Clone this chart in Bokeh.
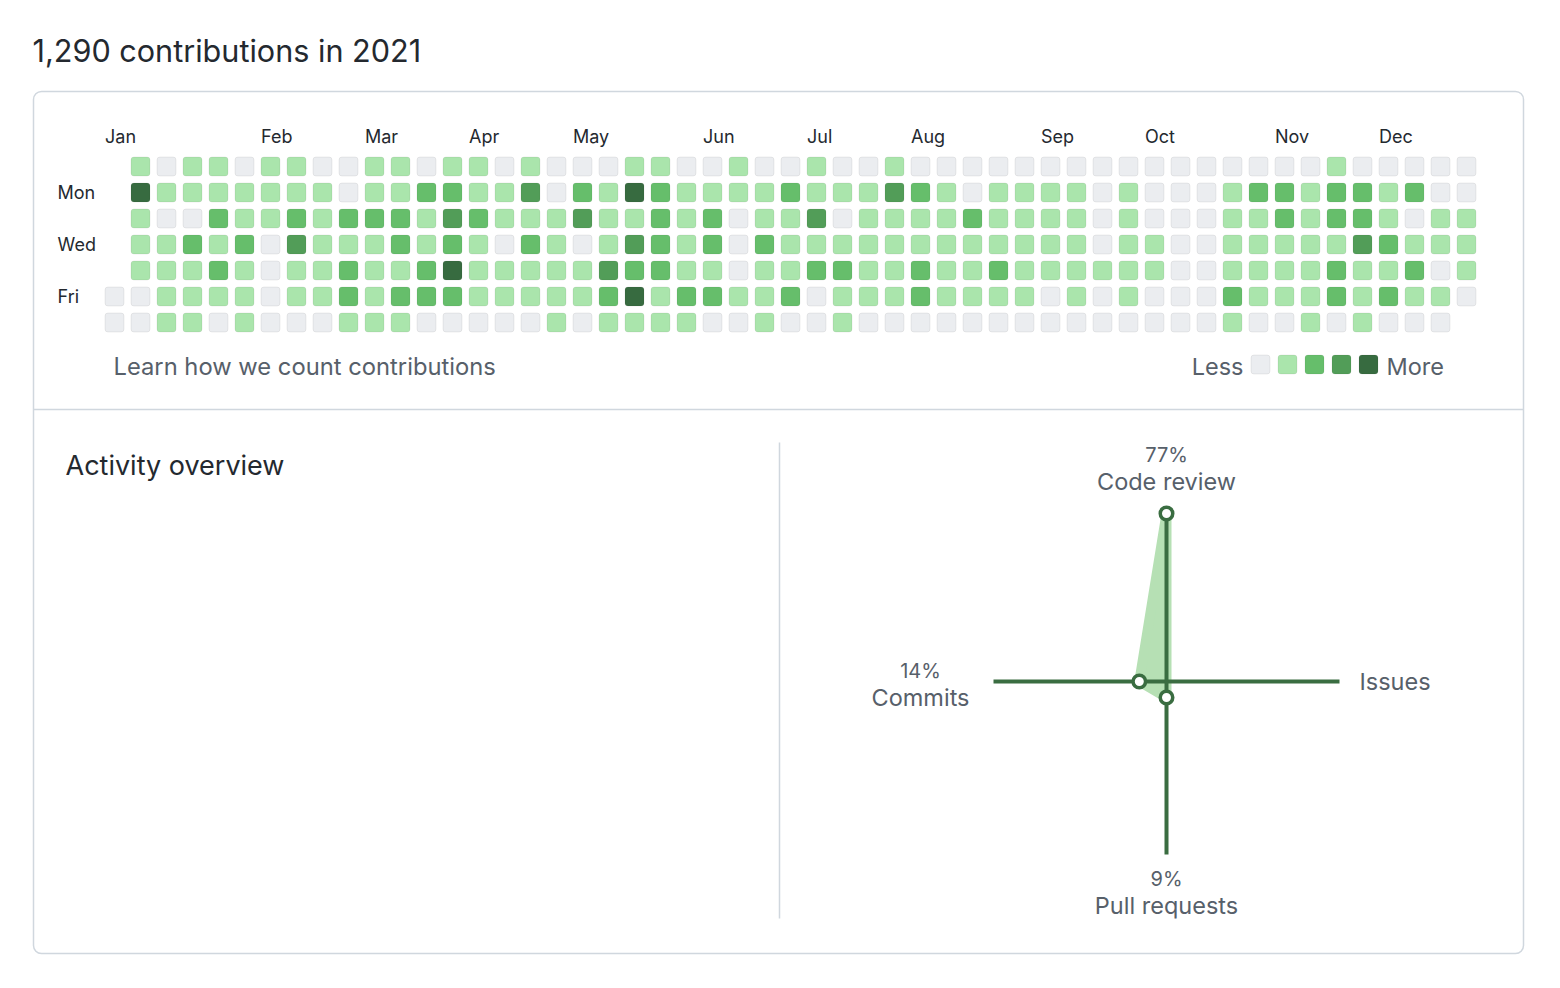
from bokeh.plotting import figure
from bokeh.models import Range1d, ColumnDataSource
from bokeh.core.properties import value
from bokeh.embed import file_html
from bokeh.resources import INLINE

# ---------------- data ----------------
TITLE = "1,290 contributions in 2021"
MONTHS = ["Jan", "Feb", "Mar", "Apr", "May", "Jun", "Jul", "Aug", "Sep", "Oct", "Nov", "Dec"]
MONTH_WEEKS = [0, 6, 10, 14, 18, 23, 27, 31, 36, 40, 45, 49]
DAY_LABELS = ["Mon", "Wed", "Fri"]
DAY_LABEL_ROWS = [1, 3, 5]

N = None  # day outside 2021
SUN = [N, 1, 0, 1, 1, 0, 1, 1, 0, 0, 1, 1, 0, 1, 1, 0, 1, 0, 0, 0, 1, 1, 0, 0, 1, 0, 0,
       1, 0, 0, 1, 0, 0, 0, 0, 0, 0, 0, 0, 0, 0, 0, 0, 0, 0, 0, 0, 1, 0, 0, 0, 0, 0]
MON = [N, 4, 1, 1, 1, 1, 1, 1, 1, 0, 1, 1, 2, 2, 1, 1, 3, 0, 2, 1, 4, 2, 1, 1, 1, 1, 2,
       1, 1, 1, 3, 2, 1, 0, 1, 1, 1, 1, 0, 1, 0, 0, 0, 1, 2, 2, 1, 2, 2, 1, 2, 0, 0]
TUE = [N, 1, 0, 0, 2, 1, 1, 2, 1, 2, 2, 2, 1, 3, 2, 1, 1, 1, 3, 1, 1, 2, 1, 2, 0, 1, 1,
       3, 0, 1, 1, 1, 1, 2, 1, 1, 1, 1, 0, 1, 0, 0, 0, 1, 1, 2, 1, 2, 2, 1, 0, 1, 1]
WED = [N, 1, 1, 2, 1, 2, 0, 3, 1, 1, 1, 2, 1, 2, 1, 0, 2, 1, 0, 1, 3, 2, 1, 2, 0, 2, 1,
       1, 1, 1, 1, 1, 1, 1, 1, 1, 1, 1, 0, 1, 1, 0, 0, 1, 1, 1, 1, 1, 3, 2, 1, 1, 1]
THU = [N, 1, 1, 1, 2, 1, 0, 1, 1, 2, 1, 1, 2, 4, 1, 1, 1, 1, 1, 3, 2, 2, 1, 1, 0, 1, 1,
       2, 2, 1, 1, 2, 1, 1, 2, 1, 1, 1, 1, 1, 1, 0, 0, 1, 1, 1, 1, 2, 1, 1, 2, 0, 1]
FRI = [0, 0, 1, 1, 1, 1, 0, 1, 1, 2, 1, 2, 2, 2, 1, 1, 1, 1, 1, 2, 4, 1, 2, 2, 1, 1, 2,
       0, 1, 1, 1, 2, 1, 1, 1, 1, 0, 1, 0, 1, 0, 0, 0, 2, 1, 1, 1, 2, 1, 2, 1, 1, 0]
SAT = [0, 0, 1, 1, 0, 1, 0, 0, 0, 1, 1, 1, 0, 0, 0, 0, 0, 1, 0, 1, 1, 1, 1, 0, 0, 1, 0,
       0, 1, 0, 0, 0, 0, 0, 0, 0, 0, 0, 0, 0, 0, 0, 0, 1, 0, 0, 1, 0, 1, 0, 0, 0, N]
WEEKDAY_ROWS = [SUN, MON, TUE, WED, THU, FRI, SAT]

LEVELS = [0, 1, 2, 3, 4]
LEVEL_COLORS = ["#ebedf0", "#aae5ac", "#66be6b", "#529d58", "#376b40"]

RADAR_AXES = ["Code review", "Issues", "Pull requests", "Commits"]
RADAR_PCT = [77, 0, 9, 14]
RADAR_DIRS = [(0, 1), (1, 0), (0, -1), (-1, 0)]

# ---------------- layout constants ----------------
W, H = 1544, 972
CELL = 26.0               # px per week / day
GX0, GY0 = 114.0, 166.0   # pixel of week 0 / Sunday cell centres
CS = 19.0 / CELL          # cell size in grid units
RCX, RCY = 1166.0, 681.0  # radar centre pixel
EXT = 173.0               # axis half length in px


def radius(pct):
    # radial scale of the activity chart (px from centre)
    return 2.235 * pct - 4.1 if pct > 0 else 0.0


FONT = value("Inter")
DARK = "#24292f"
GREY = "#57606a"
BORDER = "#d0d7de"
GREEN = "#3a6d41"
FILL = "#b6e0b4"

p = figure(width=W, height=H, x_range=Range1d(0, W), y_range=Range1d(H, 0),
           output_backend="svg", toolbar_location=None, min_border=0,
           x_axis_location=None, y_axis_location=None)
p.grid.visible = False
p.outline_line_color = None
p.background_fill_color = "white"
p.border_fill_color = "white"

p.extra_x_ranges = {"wk": Range1d(-GX0 / CELL, (W - GX0) / CELL),
                    "rx": Range1d(-RCX, W - RCX)}
p.extra_y_ranges = {"dy": Range1d((H - GY0) / CELL, -GY0 / CELL),
                    "ry": Range1d(-(H - RCY), RCY)}

# frame
p.quad(left=[33], right=[1523], top=[91], bottom=[953], fill_color=None,
       line_color=BORDER, line_width=1.5, border_radius=8)
p.segment(x0=[33], y0=[409], x1=[1523], y1=[409], line_color=BORDER, line_width=1.5)
p.segment(x0=[779], y0=[442], x1=[779], y1=[918], line_color=BORDER, line_width=1.5)

# title
p.text(x=[32], y=[50], text=[TITLE], text_font=FONT, text_font_size=value("30.6px"),
       text_color=DARK, text_align="left", text_baseline="middle")

# heatmap cells
wk, dy, col = [], [], []
for d, row in enumerate(WEEKDAY_ROWS):
    for w, lv in enumerate(row):
        if lv is None:
            continue
        wk.append(w)
        dy.append(d)
        col.append(LEVEL_COLORS[lv])
src = ColumnDataSource(dict(x=wk, y=dy, c=col))
p.rect(x="x", y="y", width=CS, height=CS, source=src, fill_color="c",
       line_color="#1b1f23", line_alpha=0.07, line_width=1, border_radius=3,
       x_range_name="wk", y_range_name="dy")

# month labels
p.text(x=[m - CS / 2 for m in MONTH_WEEKS], y=[-1.15] * len(MONTHS), text=MONTHS,
       text_font=FONT, text_font_size=value("18px"), text_color=DARK,
       text_align="left", text_baseline="middle", x_range_name="wk", y_range_name="dy")
# day labels
p.text(x=[-2.19] * len(DAY_LABELS), y=DAY_LABEL_ROWS, text=DAY_LABELS,
       text_font=FONT, text_font_size=value("18px"), text_color=DARK,
       text_align="left", text_baseline="middle", x_range_name="wk", y_range_name="dy")

# footer of the calendar
p.text(x=[113], y=[366], text=["Learn how we count contributions"], text_font=FONT,
       text_font_size=value("23.75px"), text_color=GREY, text_align="left", text_baseline="middle")
p.text(x=[1243], y=[366], text=["Less"], text_font=FONT, text_font_size=value("23.5px"),
       text_color=GREY, text_align="right", text_baseline="middle")
p.text(x=[1386], y=[366], text=["More"], text_font=FONT, text_font_size=value("23.5px"),
       text_color=GREY, text_align="left", text_baseline="middle")
p.rect(x=[1260 + 27 * lv for lv in LEVELS], y=[364] * len(LEVELS), width=19, height=19,
       fill_color=LEVEL_COLORS, line_color="#1b1f23", line_alpha=0.07, border_radius=3)

# activity overview
p.text(x=[65], y=[465], text=["Activity overview"], text_font=FONT,
       text_font_size=value("27px"), text_color=DARK, text_align="left", text_baseline="middle")

# radar
px = [d[0] * radius(v) for d, v in zip(RADAR_DIRS, RADAR_PCT)]
py = [d[1] * radius(v) for d, v in zip(RADAR_DIRS, RADAR_PCT)]
p.patch(px, py, fill_color=FILL, line_color=FILL, line_width=10, line_join="round",
        x_range_name="rx", y_range_name="ry")
p.segment(x0=[-EXT, 0], y0=[0, -EXT], x1=[EXT, 0], y1=[0, EXT], line_color=GREEN,
          line_width=4, x_range_name="rx", y_range_name="ry")
nz = [i for i, v in enumerate(RADAR_PCT) if v > 0]
p.scatter(x=[px[i] for i in nz], y=[py[i] for i in nz], size=12.5, fill_color="white",
          line_color=GREEN, line_width=3.5, x_range_name="rx", y_range_name="ry")

pct = {a: f"{v}%" for a, v in zip(RADAR_AXES, RADAR_PCT)}
lab_small = dict(text_font=FONT, text_font_size=value("20px"), text_color=GREY,
                 text_baseline="middle", x_range_name="rx", y_range_name="ry")
lab_big = dict(text_font=FONT, text_font_size=value("23.5px"), text_color=GREY,
               text_baseline="middle", x_range_name="rx", y_range_name="ry")
p.text(x=[0], y=[227], text=[pct["Code review"]], text_align="center", **lab_small)
p.text(x=[0], y=[200], text=["Code review"], text_align="center", **lab_big)
p.text(x=[-246], y=[11], text=[pct["Commits"]], text_align="center", **lab_small)
p.text(x=[-246], y=[-16], text=["Commits"], text_align="center", **lab_big)
p.text(x=[193], y=[0], text=["Issues"], text_align="left", **lab_big)
p.text(x=[0], y=[-197], text=[pct["Pull requests"]], text_align="center", **lab_small)
p.text(x=[0], y=[-224], text=["Pull requests"], text_align="center", **lab_big)

open("out.html", "w").write(file_html(p, INLINE))
